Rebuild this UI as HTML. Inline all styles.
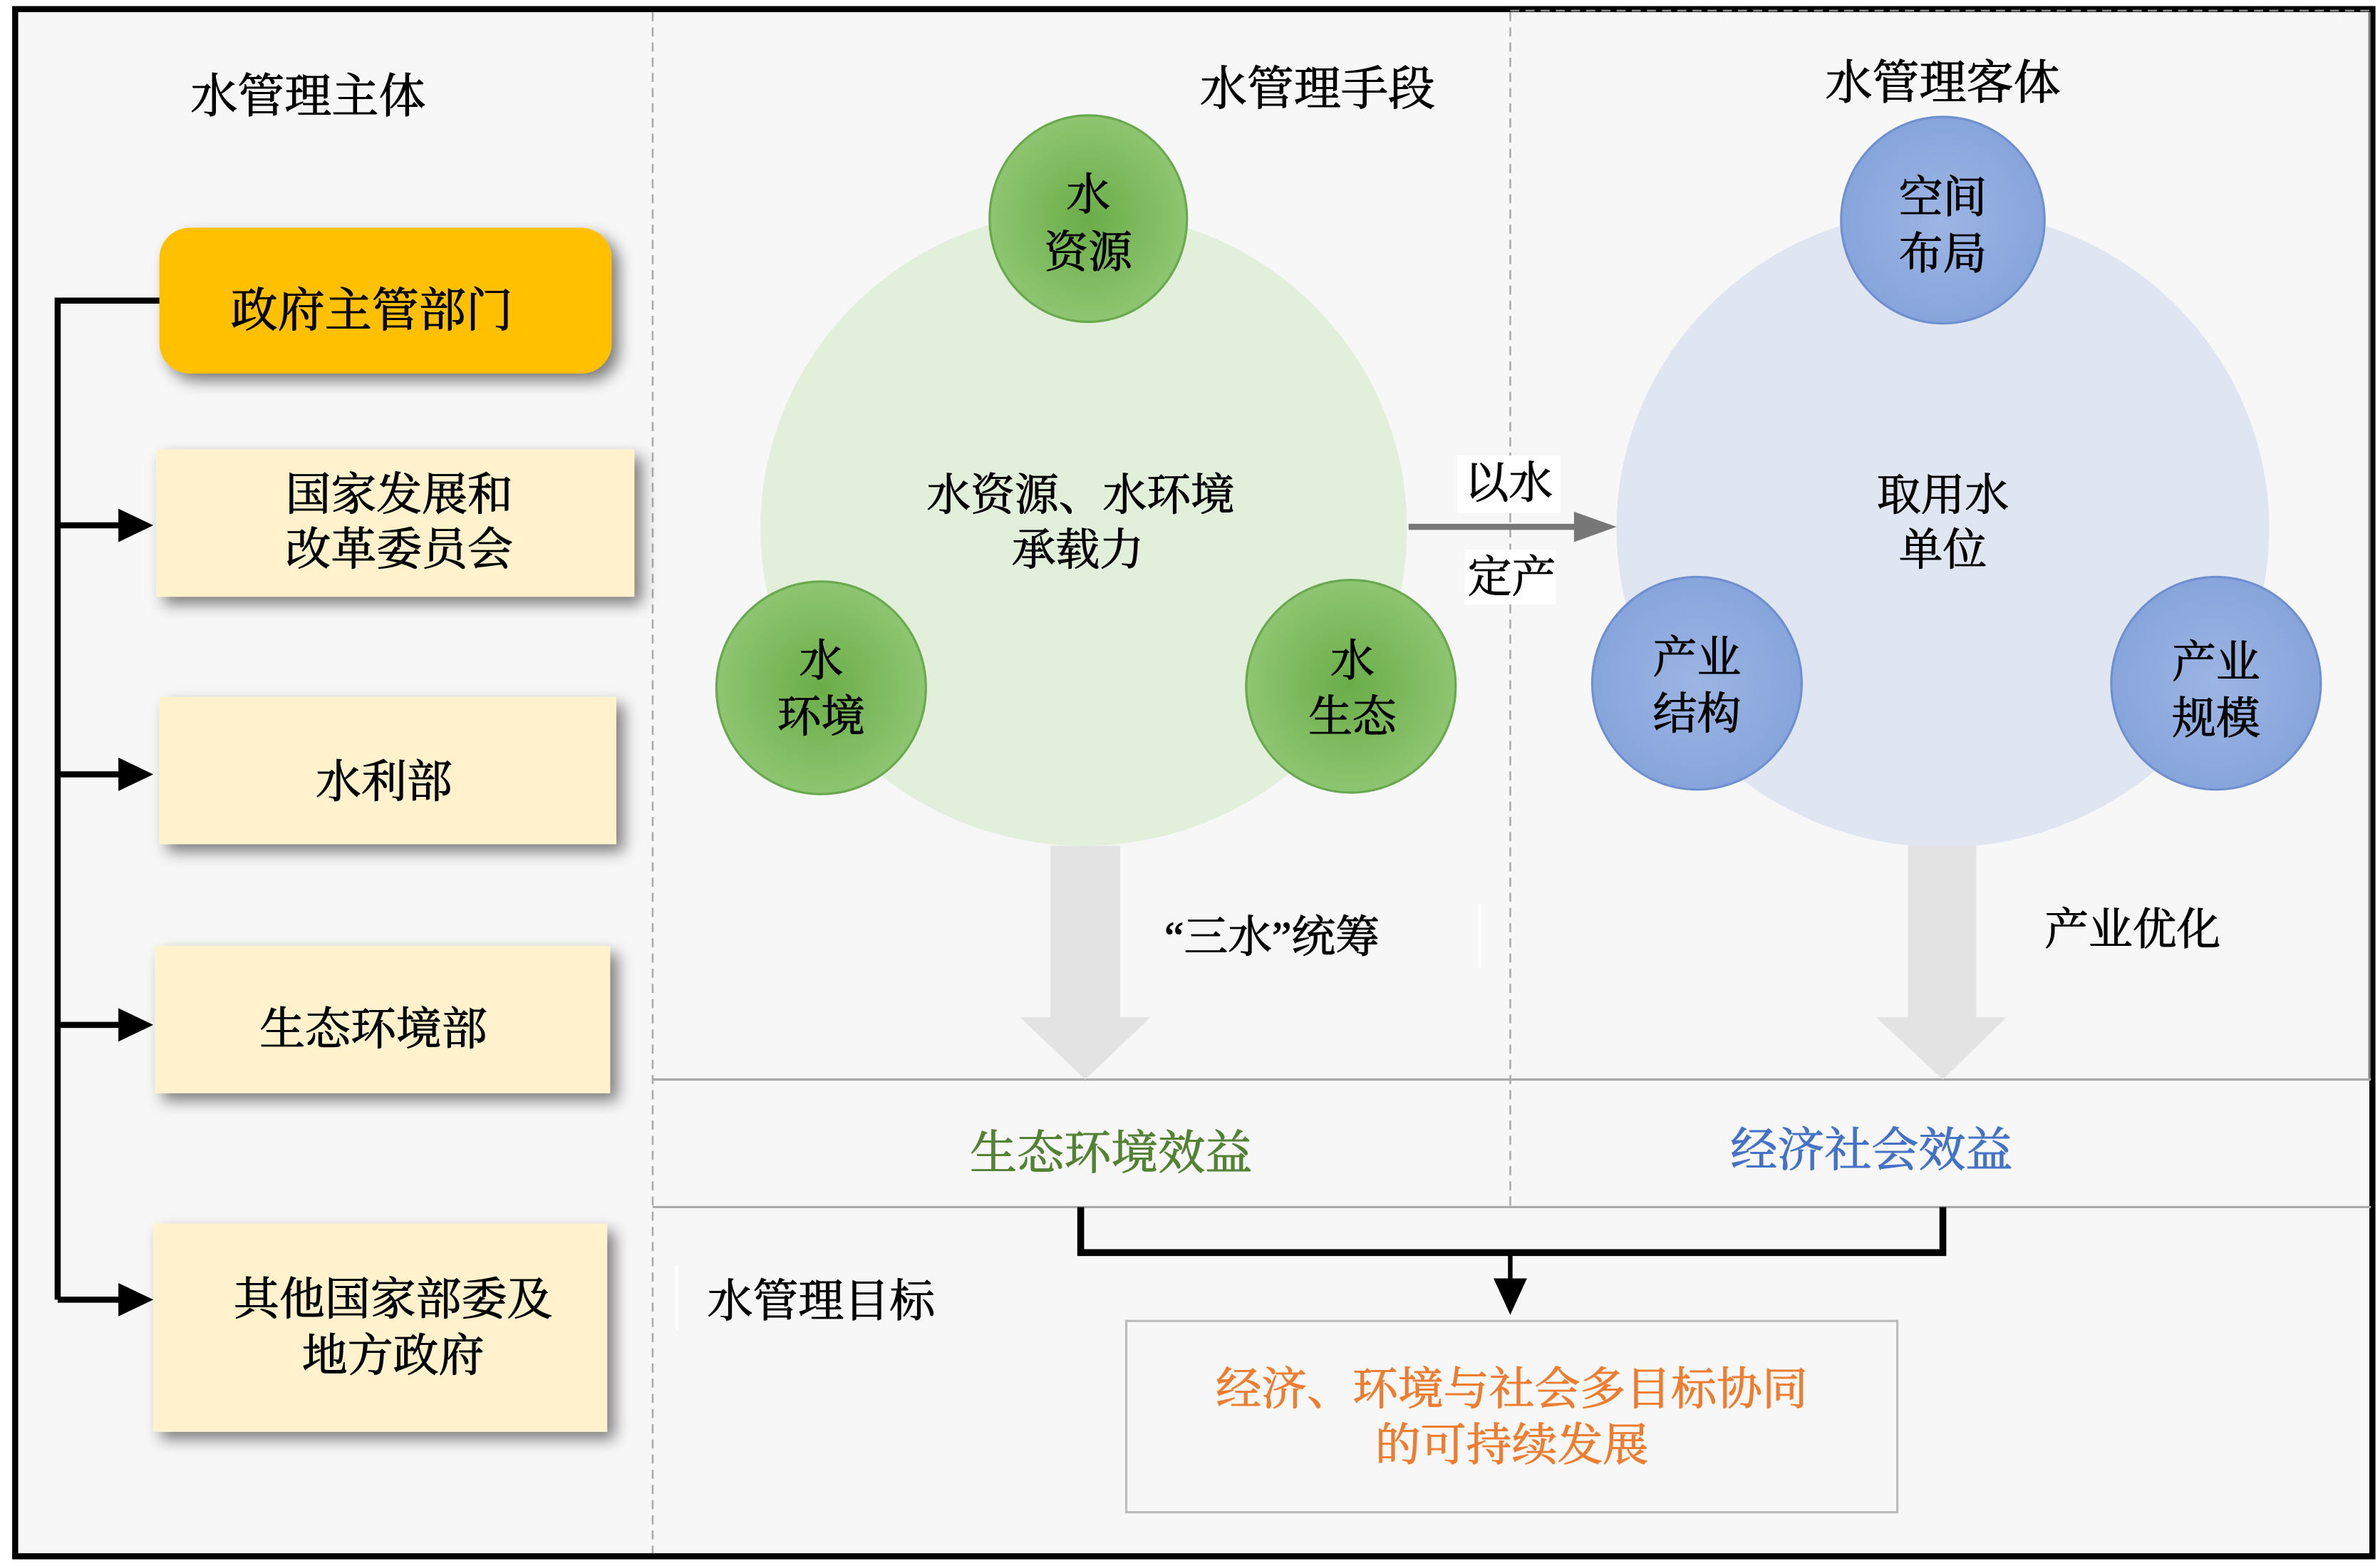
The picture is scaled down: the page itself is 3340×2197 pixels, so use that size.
<!DOCTYPE html>
<html><head><meta charset="utf-8"><style>
html,body{margin:0;padding:0;background:#fff}
svg{display:block}
text{font-family:"Liberation Serif","Noto Serif CJK SC",serif;fill:#000;text-anchor:middle;stroke:#000;stroke-width:0.5}
</style></head><body>
<svg width="3340" height="2197" viewBox="0 0 1568 1031.4" preserveAspectRatio="none" xmlns="http://www.w3.org/2000/svg">
<defs>
<filter id="sh" x="-20%" y="-30%" width="150%" height="170%"><feGaussianBlur in="SourceAlpha" stdDeviation="5"/><feOffset dx="5" dy="5"/><feComponentTransfer><feFuncA type="linear" slope="0.5"/></feComponentTransfer><feMerge><feMergeNode/><feMergeNode in="SourceGraphic"/></feMerge></filter>
<radialGradient id="gg"><stop offset="0" stop-color="#6aad48"/><stop offset="1" stop-color="#8ec571"/></radialGradient>
<radialGradient id="bg"><stop offset="0" stop-color="#9cb5e3"/><stop offset="1" stop-color="#87a4dc"/></radialGradient>
</defs>
<rect x="0" y="0" width="1568" height="1031.4" fill="#fff"/>
<rect x="10" y="6" width="1553" height="1019" fill="#f7f7f7" stroke="#000" stroke-width="4"/>
<line x1="430" y1="8" x2="430" y2="1023" stroke="#aaa" stroke-width="1.2" stroke-dasharray="6,4"/>
<line x1="995" y1="8" x2="995" y2="795" stroke="#aaa" stroke-width="1.2" stroke-dasharray="6,4"/>
<line x1="995" y1="7" x2="1562" y2="7" stroke="#888" stroke-width="1.2" stroke-dasharray="6,4"/>
<line x1="1561" y1="8" x2="1561" y2="711" stroke="#888" stroke-width="1.5"/>
<line x1="430" y1="711" x2="1562" y2="711" stroke="#aaa" stroke-width="1.5"/>
<line x1="430" y1="795" x2="1562" y2="795" stroke="#aaa" stroke-width="1.5"/>
<text x="203" y="74" font-size="31">水管理主体</text>
<text x="868" y="69" font-size="31">水管理手段</text>
<text x="1280" y="65" font-size="31">水管理客体</text>
<rect x="105" y="150" width="298" height="96" rx="20" fill="#ffc000" filter="url(#sh)"/>
<text x="245" y="215" font-size="31">政府主管部门</text>
<rect x="103" y="296" width="315" height="97" fill="#fff2cc" filter="url(#sh)"/>
<text x="263" y="336" font-size="30">国家发展和</text>
<text x="263" y="372" font-size="30">改革委员会</text>
<rect x="105" y="459" width="301" height="97" fill="#fff2cc" filter="url(#sh)"/>
<text x="253" y="525" font-size="30">水利部</text>
<rect x="102" y="623" width="300" height="97" fill="#fff2cc" filter="url(#sh)"/>
<text x="246" y="688" font-size="30">生态环境部</text>
<rect x="101" y="806" width="299" height="137" fill="#fff2cc" filter="url(#sh)"/>
<text x="259" y="866" font-size="30">其他国家部委及</text>
<text x="259" y="903" font-size="30">地方政府</text>
<path d="M105 198 H38 V856" fill="none" stroke="#000" stroke-width="4"/>
<g stroke="#000" stroke-width="4">
<line x1="38" y1="346" x2="80" y2="346"/><line x1="38" y1="510" x2="80" y2="510"/>
<line x1="38" y1="675" x2="80" y2="675"/><line x1="38" y1="856" x2="80" y2="856"/>
</g>
<g fill="#000">
<polygon points="78,335 101,346 78,357"/><polygon points="78,499 101,510 78,521"/>
<polygon points="78,664 101,675 78,686"/><polygon points="78,845 101,856 78,867"/>
</g>
<ellipse cx="714" cy="348" rx="213" ry="209" fill="#e2efda"/>
<ellipse cx="717" cy="144" rx="65" ry="68" fill="url(#gg)" stroke="#6aa84f" stroke-width="1.5"/>
<ellipse cx="541" cy="453" rx="69" ry="70" fill="url(#gg)" stroke="#6aa84f" stroke-width="1.5"/>
<ellipse cx="890" cy="452" rx="69" ry="70" fill="url(#gg)" stroke="#6aa84f" stroke-width="1.5"/>
<text x="717" y="138" font-size="29">水</text><text x="717" y="176" font-size="29">资源</text>
<text x="541" y="445" font-size="29">水</text><text x="541" y="482" font-size="29">环境</text>
<text x="891" y="445" font-size="29">水</text><text x="891" y="482" font-size="29">生态</text>
<text x="712" y="336" font-size="29">水资源、水环境</text>
<text x="710" y="372" font-size="29">承载力</text>
<ellipse cx="1280" cy="348" rx="215" ry="210" fill="#dfe6f2"/>
<ellipse cx="1280" cy="145" rx="67" ry="68" fill="url(#bg)" stroke="#6f8fcf" stroke-width="1.5"/>
<ellipse cx="1118" cy="450" rx="69" ry="70" fill="url(#bg)" stroke="#6f8fcf" stroke-width="1.5"/>
<ellipse cx="1460" cy="450" rx="69" ry="70" fill="url(#bg)" stroke="#6f8fcf" stroke-width="1.5"/>
<text x="1280" y="140" font-size="29">空间</text><text x="1280" y="177" font-size="29">布局</text>
<text x="1118" y="443" font-size="29">产业</text><text x="1118" y="480" font-size="29">结构</text>
<text x="1460" y="446" font-size="29">产业</text><text x="1460" y="483" font-size="29">规模</text>
<text x="1280" y="336" font-size="29">取用水</text>
<text x="1280" y="372" font-size="29">单位</text>
<rect x="960" y="300" width="68" height="38" fill="#fff"/>
<rect x="965" y="362" width="60" height="36" fill="#fff"/>
<line x1="928" y1="347" x2="1040" y2="347" stroke="#777" stroke-width="4"/>
<polygon points="1037,337 1065,347 1037,357" fill="#777"/>
<text x="994" y="328" font-size="29">以水</text>
<text x="996" y="390" font-size="29">定产</text>
<polygon points="692,557 738,557 738,670 758,670 715,711 672,670 692,670" fill="#e3e3e3"/>
<polygon points="1257,557 1302,557 1302,670 1322,670 1280,711 1236,670 1257,670" fill="#e3e3e3"/>
<line x1="975" y1="595" x2="975" y2="638" stroke="#fff" stroke-width="2"/>
<text x="838" y="627" font-size="29">“三水”统筹</text>
<text x="1405" y="622" font-size="29">产业优化</text>
<text x="732" y="770" font-size="31" style="fill:#548235;stroke:#548235">生态环境效益</text>
<text x="1233" y="768" font-size="31" style="fill:#4472c4;stroke:#4472c4">经济社会效益</text>
<path d="M712 795 V825 H1280 V795" fill="none" stroke="#000" stroke-width="4.5"/>
<line x1="995" y1="825" x2="995" y2="845" stroke="#000" stroke-width="3"/>
<polygon points="984,842 1006,842 995,866" fill="#000"/>
<line x1="446" y1="833" x2="446" y2="876" stroke="#fff" stroke-width="2"/>
<text x="541" y="867" font-size="30">水管理目标</text>
<rect x="742" y="870" width="508" height="126" fill="#f7f7f7" stroke="#bbb" stroke-width="1.5"/>
<text x="996" y="925" font-size="30" style="fill:#ed7d31;stroke:#ed7d31">经济、环境与社会多目标协同</text>
<text x="996" y="962" font-size="30" style="fill:#ed7d31;stroke:#ed7d31">的可持续发展</text>
</svg>
</body></html>
